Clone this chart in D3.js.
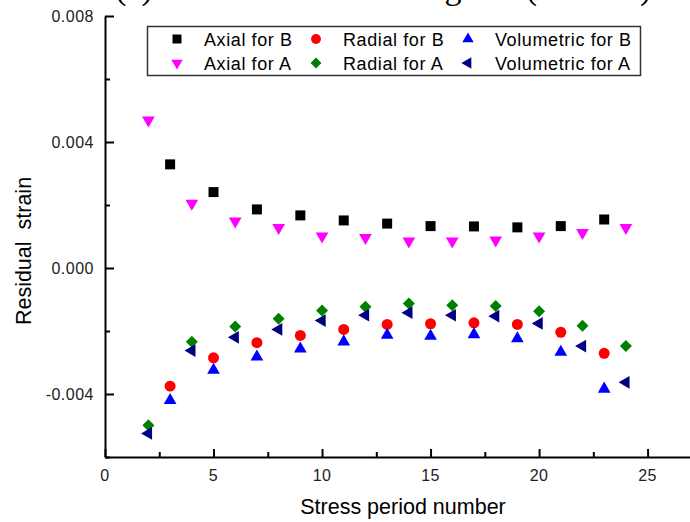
<!DOCTYPE html>
<html>
<head>
<meta charset="utf-8">
<script src="https://cdn.jsdelivr.net/npm/d3@7"></script>
<style>
  body { margin: 0; background: #fff; }
  svg { display: block; }
  .tick-label { font-family: Arial, "Liberation Sans", sans-serif; font-size: 16px; fill: #222; letter-spacing: 0.5px; }
  .legend-text { font-family: Arial, "Liberation Sans", sans-serif; font-size: 18px; fill: #000; letter-spacing: 0.6px; }
  .axis-title { font-family: Arial, "Liberation Sans", sans-serif; font-size: 21.5px; fill: #000; }
</style>
</head>
<body>
<div class="chart"></div>
<script>
// Step 0: chart size
var svgWidth = 690;
var svgHeight = 522;

// data
var oddPeriods = [3, 5, 7, 9, 11, 13, 15, 17, 19, 21, 23];
var evenPeriods = [2, 4, 6, 8, 10, 12, 14, 16, 18, 20, 22, 24];

var axialB = [0.00329, 0.00241, 0.00186, 0.00167, 0.00151, 0.00141, 0.00133, 0.00132, 0.00129, 0.00133, 0.00154];
var radialB = [-0.00375, -0.00285, -0.00237, -0.00214, -0.00195, -0.00179, -0.00177, -0.00174, -0.00179, -0.00204, -0.00271];
var volumetricB = [-0.00420, -0.00324, -0.00282, -0.00257, -0.00234, -0.00213, -0.00216, -0.00211, -0.00224, -0.00267, -0.00384];

var axialA = [0.00469, 0.00205, 0.00149, 0.00128, 0.00101, 0.00096, 0.00085, 0.00085, 0.00088, 0.00101, 0.00112, 0.00128];
var radialA = [-0.00499, -0.00234, -0.00186, -0.00161, -0.00135, -0.00123, -0.00113, -0.00118, -0.00121, -0.00137, -0.00183, -0.00248];
var volumetricA = [-0.00525, -0.00262, -0.00220, -0.00195, -0.00167, -0.00150, -0.00142, -0.00150, -0.00153, -0.00176, -0.00248, -0.00363];

var xTicks = [0, 5, 10, 15, 20, 25];
var yTicks = [-0.004, 0.000, 0.004, 0.008];

var series = [
  { name: "Axial for B", x: oddPeriods, y: axialB, shape: "square", color: "#000000" },
  { name: "Radial for B", x: oddPeriods, y: radialB, shape: "circle", color: "#ff0000" },
  { name: "Volumetric for B", x: oddPeriods, y: volumetricB, shape: "up", color: "#0000ff" },
  { name: "Axial for A", x: evenPeriods, y: axialA, shape: "down", color: "#ff00ff" },
  { name: "Radial for A", x: evenPeriods, y: radialA, shape: "diamond", color: "#008000" },
  { name: "Volumetric for A", x: evenPeriods, y: volumetricA, shape: "left", color: "#000080" }
];

var svg = d3
  .select(".chart")
  .append("svg")
  .attr("width", svgWidth)
  .attr("height", svgHeight);

// scales
var xScale = d3.scaleLinear().domain([0, 27]).range([105, 691]);
var yScale = d3.scaleLinear().domain([-0.006, 0.008]).range([457, 16]);

// marker paths
function markerPath(shape, scale) {
  var s = scale || 1;
  if (shape === "square") return d3.symbol().type(d3.symbolSquare).size(100 * s * s)();
  if (shape === "circle") return d3.symbol().type(d3.symbolCircle).size(95 * s * s)();
  if (shape === "diamond") return d3.symbol().type(d3.symbolSquare).size(72 * s * s)();
  return d3.symbol().type(d3.symbolTriangle).size(70 * s * s)();
}
function markerRotate(shape) {
  if (shape === "down") return 180;
  if (shape === "left") return -90;
  if (shape === "diamond") return 45;
  return 0;
}

// title above the plot, mostly cut off by the top edge as in the picture
svg.append("text")
  .attr("x", 115)
  .attr("y", -1)
  .style("font-family", "'Liberation Serif', 'Times New Roman', serif")
  .style("font-size", "34px")
  .text("(a) Residual strain during test (Rock B)");

// axes
var bottomAxis = d3.axisBottom(xScale)
  .tickValues(d3.range(0, 27.5, 2.5))
  .tickSize(0)
  .tickFormat("");
var leftAxis = d3.axisLeft(yScale)
  .tickValues(d3.range(-0.006, 0.0081, 0.002))
  .tickSize(0)
  .tickFormat("");

var xAxisG = svg.append("g").attr("transform", "translate(0,457)").call(bottomAxis);
var yAxisG = svg.append("g").attr("transform", "translate(105,0)").call(leftAxis);
[xAxisG, yAxisG].forEach(function(g) {
  g.select(".domain").attr("stroke", "#000").attr("stroke-width", 2);
});

// inward ticks, long for labelled values, short for minor ones
xAxisG.selectAll(".tick line")
  .attr("stroke", "#000")
  .attr("stroke-width", 2)
  .attr("y2", function(d) { return (Math.abs(d % 5) < 1e-9) ? -8 : -5; });
yAxisG.selectAll(".tick line")
  .attr("stroke", "#000")
  .attr("stroke-width", 2)
  .attr("x2", function(d) { return (Math.abs(Math.round(d * 1000) % 4) === 0) ? 9 : 5; });

// tick labels
svg.selectAll(".x-label")
  .data(xTicks)
  .enter()
  .append("text")
  .attr("class", "tick-label")
  .attr("x", function(d) { return xScale(d); })
  .attr("y", 481)
  .attr("text-anchor", "middle")
  .text(function(d) { return d; });

svg.selectAll(".y-label")
  .data(yTicks)
  .enter()
  .append("text")
  .attr("class", "tick-label")
  .attr("x", 94)
  .attr("y", function(d) { return yScale(d) + 6; })
  .attr("text-anchor", "end")
  .text(function(d) { return d3.format(".3f")(d).replace("−", "-"); });

// axis titles
svg.append("text")
  .attr("class", "axis-title")
  .attr("x", 403)
  .attr("y", 514)
  .attr("text-anchor", "middle")
  .text("Stress period number");

svg.append("text")
  .attr("class", "axis-title")
  .attr("transform", "translate(31,251) rotate(-90)")
  .attr("text-anchor", "middle")
  .style("white-space", "pre")
  .text("Residual  strain");

// points
series.forEach(function(s) {
  svg.append("g")
    .selectAll("path")
    .data(s.x.map(function(xv, i) { return [xv, s.y[i]]; }))
    .enter()
    .append("path")
    .attr("d", markerPath(s.shape))
    .attr("fill", s.color)
    .attr("transform", function(d) {
      return "translate(" + xScale(d[0]) + "," + yScale(d[1]) + ") rotate(" + markerRotate(s.shape) + ")";
    });
});

// legend
var legend = svg.append("g");
legend.append("rect")
  .attr("x", 147.5)
  .attr("y", 26.5)
  .attr("width", 493)
  .attr("height", 49)
  .attr("fill", "#fff")
  .attr("stroke", "#333")
  .attr("stroke-width", 1.5);

var legendCols = [177, 316, 468];
var legendRows = [39, 63];
series.forEach(function(s, i) {
  var col = i % 3;
  var row = Math.floor(i / 3);
  var cx = legendCols[col];
  var cy = legendRows[row];
  legend.append("path")
    .attr("d", markerPath(s.shape, 0.9))
    .attr("fill", s.color)
    .attr("transform", "translate(" + cx + "," + cy + ") rotate(" + markerRotate(s.shape) + ")");
  legend.append("text")
    .attr("class", "legend-text")
    .attr("x", cx + 27)
    .attr("y", cy + 6.5)
    .text(s.name);
});
</script>
</body>
</html>
